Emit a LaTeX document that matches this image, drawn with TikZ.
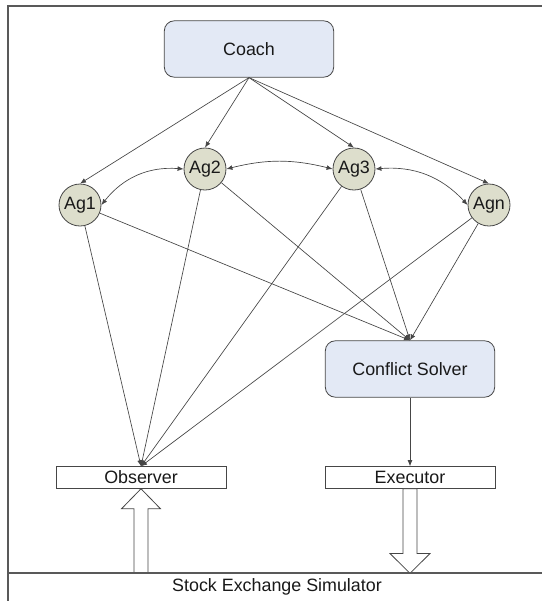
\documentclass[tikz,border=0pt]{standalone}
\usepackage{fontspec}
\setmainfont{Liberation Sans}
\usetikzlibrary{arrows.meta,calc}

\definecolor{boxblue}{RGB}{227,233,245}
\definecolor{agfill}{RGB}{221,222,204}
\definecolor{edgegray}{RGB}{70,70,70}

\begin{document}
\begin{tikzpicture}[x=0.75pt,y=-0.75pt,
    font=\fontsize{13.4}{16}\selectfont,
    every node/.style={inner sep=0pt, text=black!90},
    role/.style={draw=edgegray, line width=0.6pt, fill=boxblue, rounded corners=7.5pt,
        minimum width=127pt, minimum height=42.3pt},
    plain/.style={draw=edgegray, line width=0.6pt, fill=white,
        minimum width=127.5pt, minimum height=16.3pt},
    agent/.style={circle, draw=edgegray, line width=0.6pt, fill=agfill, minimum size=31.5pt},
    link/.style={draw=edgegray, line width=0.5pt, -{Latex[length=4.5pt,width=3.6pt]}},
    dlink/.style={link, {Latex[length=4.5pt,width=3.6pt]}-{Latex[length=4.5pt,width=3.6pt]}},
    hollow/.style={draw=edgegray, line width=0.6pt, fill=white},
    frame/.style={draw=black!65, line width=1.1pt}]
    \useasboundingbox (0,0) rectangle (542,601);
    \node (sim) at (277,587) {Stock Exchange Simulator};
    \node [role] (coach) at (249,49) {Coach};
    \node [agent] (ag1) at (80,205) {Ag1};
    \node [agent] (ag2) at (205,169) {Ag2};
    \node [agent] (ag3) at (354,169) {Ag3};
    \node [agent] (agn) at (489,205) {Agn};
    \node [role] (cs) at (410,369) {Conflict Solver};
    \node [plain] (obs) at (141,477.5) {Observer};
    \node [plain] (exe) at (410,477.5) {Executor};
    \foreach \a in {ag1,ag2,ag3,agn}
        \draw [link] (coach.south) -- (\a.north);
    \draw [dlink] (ag1.east) to [bend left=28] (ag2.west);
    \draw [dlink] (ag2.east) to [bend left=14] (ag3.west);
    \draw [dlink] (ag3.east) to [bend left=26] (agn.west);
    \foreach \a in {ag1,ag2,ag3,agn} {
        \draw [link] (\a) -- (obs.north);
        \draw [link] (\a) -- (cs.north);
    }
    \draw [link] (cs.south) -- (exe.north);
    \draw [hollow] (obs.south) -- ($(obs.south)+(19.5,20)$) -- ($(obs.south)+(7,20)$)
        -- ($(obs.south)+(7,84.6)$) -- ($(obs.south)+(-7,84.6)$)
        -- ($(obs.south)+(-7,20)$) -- ($(obs.south)+(-19.5,20)$) -- cycle;
    \draw [hollow] (exe.south) -- ($(exe.south)+(7,0)$) -- ($(exe.south)+(7,64.7)$)
        -- ($(exe.south)+(20,64.7)$) -- ($(exe.south)+(0,84.6)$)
        -- ($(exe.south)+(-20,64.7)$) -- ($(exe.south)+(-7,64.7)$)
        -- ($(exe.south)+(-7,0)$) -- cycle;
    \draw [frame] (542,6) -- (8,6) -- (8,601);
    \draw [frame] (8,573) -- (542,573);
\end{tikzpicture}
\end{document}
